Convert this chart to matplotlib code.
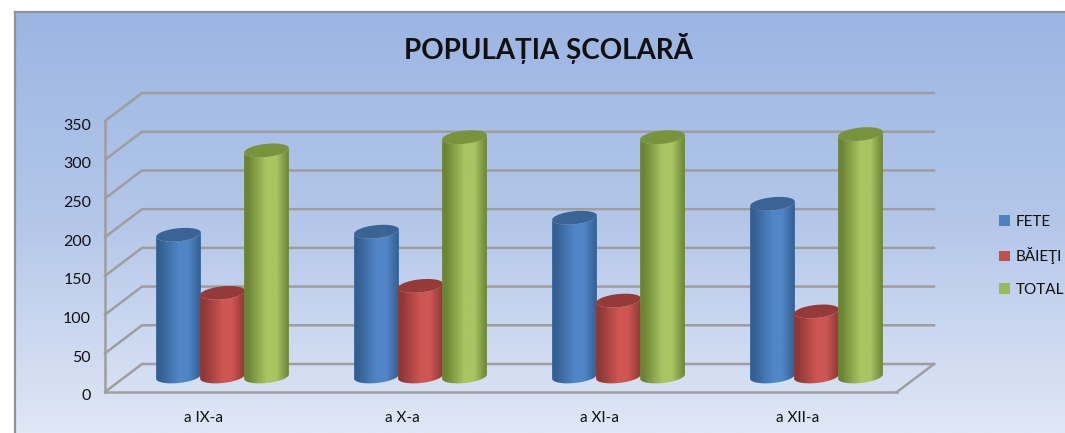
import numpy as np
import matplotlib
matplotlib.use("Agg")
import matplotlib.pyplot as plt
from matplotlib.colors import LinearSegmentedColormap
from matplotlib.patches import Polygon, Patch
from matplotlib.transforms import ScaledTranslation

categories = ["a IX-a", "a X-a", "a XI-a", "a XII-a"]
fete = [185, 189, 207, 225]
baieti = [110, 119, 100, 86]
total = [294, 311, 311, 315]
series_names = ["FETE", "BĂIEŢI", "TOTAL"]
y_ticks = [0, 50, 100, 150, 200, 250, 300, 350]
title = "POPULAȚIA ȘCOLARĂ"

plt.rcParams["font.family"] = ["Lato", "Open Sans", "DejaVu Sans"]
W, H = 1065, 433
fig = plt.figure(figsize=(W / 100, H / 100), dpi=100, facecolor="white")

# background panel
bg = fig.add_axes([15 / W, 0, (W - 15) / W, (H - 12) / H])
bgcm = LinearSegmentedColormap.from_list("bg", ["#9bb5e3", "#b4c7e9", "#e0e7f6"])
bg.imshow(np.linspace(0, 1, 256)[:, None], cmap=bgcm, aspect="auto", extent=(0, 1, 0, 1))
bg.set_xticks([]); bg.set_yticks([])
for s in ["right", "bottom"]:
    bg.spines[s].set_visible(False)
for s in ["left", "top"]:
    bg.spines[s].set_color("#8d9199"); bg.spines[s].set_linewidth(1.6)

# main axes spans the figure; limits place the value scale at its pixel position
X0, X1, Y0, Y350 = 105, 897, 392, 121
ppx = (X1 - X0) / len(categories)
ppy = (Y0 - Y350) / 350
ax = fig.add_axes([0, 0, 1, 1], facecolor="none")
xlim = (-X0 / ppx, (W - X0) / ppx)
ylim = (-(H - Y0) / ppy, Y0 / ppy)

DX, DY = 37 / ppx, 28 / ppy  # full depth
grid_c = "#9e9e9e"
for v in y_ticks:
    ax.plot([0, DX, len(categories) + DX], [v, v + DY, v + DY], color=grid_c, lw=1.8, zorder=1,
            solid_joinstyle="miter")
ax.plot([len(categories), len(categories) + DX], [0, DY], color=grid_c, lw=1.8, zorder=1)

ax.spines["left"].set_position(("data", 0)); ax.spines["left"].set_bounds(0, 350)
ax.spines["bottom"].set_position(("data", 0)); ax.spines["bottom"].set_bounds(0, len(categories))
for s in ["left", "bottom"]:
    ax.spines[s].set_color(grid_c); ax.spines[s].set_linewidth(1.8); ax.spines[s].set_zorder(1)
for s in ["right", "top"]:
    ax.spines[s].set_visible(False)
ax.set_yticks(y_ticks)
ax.set_xticks(np.arange(len(categories)) + 0.5)
ax.set_xticklabels(categories)
ax.tick_params(axis="y", length=0, pad=10, labelsize=11.5, labelcolor="#111111")
ax.tick_params(axis="x", length=0, pad=14, labelsize=11, labelcolor="#111111")
shift = ScaledTranslation(0, -3 / 100, fig.dpi_scale_trans)
for lab in ax.get_yticklabels():
    lab.set_transform(lab.get_transform() + shift)

styles = [
    ("#335f92", "#5086c6", "#3a6494", "#4f81bd", fete),
    ("#8f3836", "#cd5652", "#953a38", "#c0504d", baieti),
    ("#6b8435", "#a7c661", "#77933c", "#9bbb59", total),
]
A, B = 22.5, 6.5
TILT = np.radians(6)
T = np.linspace(0, 2 * np.pi, 121)


def ell(cx, cy, t):
    dx = A * np.cos(t) * np.cos(TILT) - B * np.sin(t) * np.sin(TILT)
    dy = A * np.cos(t) * np.sin(TILT) + B * np.sin(t) * np.cos(TILT)
    return cx + dx / ppx, cy + dy / ppy


z = 3
for k, (dark, bright, cap, _, vals) in enumerate(styles):
    cm = LinearSegmentedColormap.from_list("c", [(0, dark), (0.08, dark), (0.5, bright), (0.72, bright), (1, dark)])
    for i, v in enumerate(vals):
        cx = i + 0.5 + DX / 2 + (k - 1) * 44 / ppx
        base = DY / 2 + 1.5 / ppy
        top = v + DY / 2
        lower = T[(T >= np.pi)]
        bx, by = ell(cx, base, lower)
        tx, ty = ell(cx, top, lower[::-1])
        poly = Polygon(np.c_[np.r_[bx, tx], np.r_[by, ty]], closed=True, transform=ax.transData,
                       fc="none", ec="none")
        ax.add_patch(poly)
        im = ax.imshow(np.linspace(0, 1, 128)[None, :], cmap=cm, aspect="auto",
                       extent=(cx - A / ppx, cx + A / ppx, base - 12 / ppy, top + 12 / ppy), zorder=z)
        im.set_clip_path(poly)
        ex, ey = ell(cx, top, T)
        ax.fill(ex, ey, color=cap, lw=0, zorder=z + 0.5)
        z += 1

ax.set_xlim(xlim); ax.set_ylim(ylim)

# legend
handles = [Patch(fc=s[3], ec="none") for s in styles]
ax.legend(handles, series_names, loc="upper left", bbox_to_anchor=(999 / W, 1 - 215 / H), frameon=False,
          fontsize=11, handlelength=0.72, handleheight=0.72, handletextpad=0.35, labelspacing=1.2,
          borderpad=0, borderaxespad=0, labelcolor="#111111")

ax.text(548 / W, 1 - 48 / H, title, transform=ax.transAxes, ha="center", va="center",
        fontsize=20, fontweight="bold", color="#111111")

fig.savefig("out.png", dpi=100, facecolor="white")
